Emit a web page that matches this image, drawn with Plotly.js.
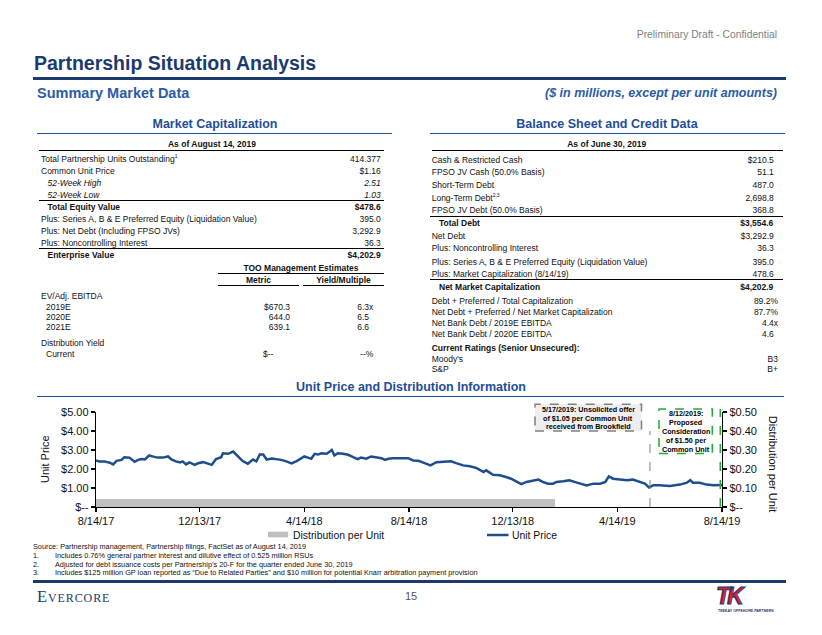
<!DOCTYPE html>
<html><head><meta charset="utf-8">
<script src="https://cdn.plot.ly/plotly-3.0.1.min.js"></script>
<style>
html,body{margin:0;padding:0;background:#fff;}
#page{position:relative;width:822px;height:635px;overflow:hidden;font-family:Arial,"Liberation Sans",sans-serif;color:#111;}
#chart{position:absolute;left:0;top:0;width:822px;height:635px;}
.t{position:absolute;white-space:nowrap;}
.hr{position:absolute;height:0;}
sup{font-size:5px;vertical-align:4px;line-height:0;}
</style></head>
<body><div id="page"><div id="chart"></div></div>
<script>
// ---------------- DATA ----------------
const tickDates = ['2017-08-14','2017-12-13','2018-04-14','2018-08-14','2018-12-13','2019-04-14','2019-08-14'];
const tickLabels = ['8/14/17','12/13/17','4/14/18','8/14/18','12/13/18','4/14/19','8/14/19'];
const leftTicks = [0,1,2,3,4,5];
const leftTickLabels = ['$--','$1.00','$2.00','$3.00','$4.00','$5.00'];
const rightTicks = [0,0.1,0.2,0.3,0.4,0.5];
const rightTickLabels = ['$--','$0.10','$0.20','$0.30','$0.40','$0.50'];

const priceDates = ['2017-08-14','2017-08-18','2017-08-24','2017-08-30','2017-09-03','2017-09-07','2017-09-13','2017-09-16','2017-09-22','2017-09-28','2017-10-02','2017-10-06','2017-10-10','2017-10-15','2017-10-20','2017-10-25','2017-10-31','2017-11-06','2017-11-10','2017-11-15','2017-11-20','2017-11-23','2017-11-27','2017-12-01','2017-12-07','2017-12-11','2017-12-17','2017-12-23','2017-12-27','2018-01-01','2018-01-07','2018-01-09','2018-01-15','2018-01-21','2018-01-27','2018-02-01','2018-02-07','2018-02-13','2018-02-17','2018-02-21','2018-02-25','2018-03-01','2018-03-07','2018-03-13','2018-03-18','2018-03-24','2018-03-30','2018-04-05','2018-04-11','2018-04-14','2018-04-18','2018-04-22','2018-04-26','2018-04-30','2018-05-04','2018-05-10','2018-05-14','2018-05-16','2018-05-19','2018-05-23','2018-05-29','2018-06-04','2018-06-10','2018-06-15','2018-06-19','2018-06-25','2018-07-01','2018-07-07','2018-07-13','2018-07-17','2018-07-21','2018-07-26','2018-08-01','2018-08-07','2018-08-13','2018-08-19','2018-08-25','2018-09-02','2018-09-08','2018-09-15','2018-09-23','2018-10-02','2018-10-08','2018-10-16','2018-10-24','2018-11-01','2018-11-09','2018-11-12','2018-11-20','2018-11-28','2018-12-05','2018-12-11','2018-12-17','2018-12-23','2018-12-29','2019-01-06','2019-01-12','2019-01-17','2019-01-23','2019-01-29','2019-02-02','2019-02-10','2019-02-17','2019-02-23','2019-03-01','2019-03-09','2019-03-17','2019-03-25','2019-03-31','2019-04-04','2019-04-09','2019-04-17','2019-04-25','2019-05-02','2019-05-10','2019-05-16','2019-05-21','2019-05-26','2019-06-02','2019-06-14','2019-06-26','2019-07-04','2019-07-08','2019-07-11','2019-07-19','2019-07-27','2019-08-04','2019-08-12','2019-08-14'];
const priceValues = [2.45,2.40,2.40,2.33,2.24,2.43,2.48,2.62,2.60,2.38,2.48,2.52,2.50,2.71,2.65,2.60,2.60,2.66,2.50,2.40,2.35,2.40,2.24,2.35,2.22,2.30,2.36,2.30,2.22,2.52,2.62,2.83,2.80,2.92,2.65,2.42,2.28,2.50,2.40,2.76,2.76,2.50,2.55,2.53,2.48,2.40,2.30,2.42,2.58,2.66,2.60,2.54,2.80,2.76,2.83,2.80,2.93,3.00,2.71,2.83,2.80,2.75,2.62,2.52,2.60,2.54,2.66,2.60,2.57,2.48,2.54,2.57,2.57,2.54,2.57,2.45,2.43,2.30,2.19,2.36,2.40,2.41,2.31,2.19,2.14,2.05,1.84,1.93,1.70,1.67,1.58,1.49,1.35,1.20,1.32,1.41,1.44,1.32,1.23,1.23,1.32,1.35,1.41,1.32,1.23,1.13,1.23,1.23,1.32,1.61,1.49,1.46,1.41,1.44,1.32,1.23,1.03,1.15,1.15,1.11,1.18,1.28,1.41,1.28,1.28,1.18,1.15,1.18,1.16];

const distStart = ['2017-08-14','2017-11-14','2018-02-14','2018-05-14','2018-08-14','2018-11-14'];
const distEnd   = ['2017-11-14','2018-02-14','2018-05-14','2018-08-14','2018-11-14','2019-01-31'];
const distValues = [0.04,0.04,0.04,0.04,0.04,0.04];

const eventDates = ['2019-05-22','2019-08-12'];
const eventLines = [['5/17/2019: Unsolicited offer','of $1.05 per Common Unit','received from Brookfield'],
                    ['8/12/2019:','Proposed','Consideration','of $1.50 per','Common Unit']];

const mcLabels = ['Total Partnership Units Outstanding<sup>1</sup>','Common Unit Price','52-Week High','52-Week Low','Total Equity Value','Plus: Series A, B &amp; E Preferred Equity (Liquidation Value)','Plus: Net Debt (Including FPSO JVs)','Plus: Noncontrolling Interest','Enterprise Value'];
const mcValues = ['414.377','$1.16','2.51','1.03','$478.6','395.0','3,292.9','36.3','$4,202.9'];
const tooLabels = ['EV/Adj. EBITDA','2019E','2020E','2021E','Distribution Yield','Current'];
const tooMetric = ['','$670.3','644.0','639.1','','$--'];
const tooYield  = ['','6.3x','6.5','6.6','','--%'];
const bsLabels = ['Cash &amp; Restricted Cash','FPSO JV Cash (50.0% Basis)','Short-Term Debt','Long-Term Debt<sup>2,3</sup>','FPSO JV Debt (50.0% Basis)','Total Debt','Net Debt','Plus: Noncontrolling Interest','Plus: Series A, B &amp; E Preferred Equity (Liquidation Value)','Plus: Market Capitalization (8/14/19)','Net Market Capitalization','Debt + Preferred / Total Capitalization','Net Debt + Preferred / Net Market Capitalization','Net Bank Debt / 2019E EBITDA','Net Bank Debt / 2020E EBITDA'];
const bsValues = ['$210.5','51.1','487.0','2,698.8','368.8','$3,554.6','$3,292.9','36.3','395.0','478.6','$4,202.9','89.2%','87.7%','4.4x','4.6'];
const ratingLabels = ["Moody's",'S&amp;P'];
const ratingValues = ['B3','B+'];
const notes = ['Source: Partnership management, Partnership filings, FactSet as of August 14, 2019',
  'Includes 0.76% general partner interest and dilutive effect of 0.525 million RSUs',
  "Adjusted for debt issuance costs per Partnership\u2019s 20-F for the quarter ended June 30, 2019",
  'Includes $125 million GP loan reported as \u201cDue to Related Parties\u201d and $10 million for potential Knarr arbitration payment provision'];

// ---------------- PAGE TEXT ----------------
const page = document.getElementById('page');
const NAVY = '#1B3A6E', BLUE = '#1F4E96', MID = '#2B5CA6';
function T(html, x, cy, o){
  o = o || {};
  const fs = o.fs || 8.5, lh = Math.round(fs*1.4);
  const d = document.createElement('div');
  d.className = 't'; d.innerHTML = html;
  d.style.fontSize = fs+'px'; d.style.lineHeight = lh+'px'; d.style.height = lh+'px';
  d.style.top = (cy - lh/2)+'px';
  if (o.align === 'right') d.style.right = (822 - x)+'px';
  else if (o.align === 'center') { d.style.left = (x-300)+'px'; d.style.width = '600px'; d.style.textAlign = 'center'; }
  else d.style.left = x+'px';
  if (o.bold) d.style.fontWeight = 'bold';
  if (o.italic) d.style.fontStyle = 'italic';
  if (o.color) d.style.color = o.color;
  if (o.family) d.style.fontFamily = o.family;
  if (o.extra) Object.assign(d.style, o.extra);
  page.appendChild(d); return d;
}
function H(x1, x2, y, w, c){
  const d = document.createElement('div'); d.className = 'hr';
  d.style.left = x1+'px'; d.style.width = (x2-x1)+'px';
  d.style.top = (y - w/2)+'px'; d.style.borderTop = w+'px solid '+c;
  page.appendChild(d);
}
const hang = v => /[x%]$/.test(v) || v === '' || /[A-Z+]$/.test(v) ? v : v + '<span style="visibility:hidden">x</span>';

// header
T('Preliminary Draft - Confidential', 777, 35, {fs:10.3, align:'right', color:'#808080'});
T('Partnership Situation Analysis', 34, 63, {fs:19.5, bold:true, color:NAVY});
H(33, 786, 78.5, 3, NAVY);
T('Summary Market Data', 37, 93, {fs:14.5, bold:true, color:MID});
T('($ in millions, except per unit amounts)', 777, 93, {fs:12.5, bold:true, italic:true, color:MID, align:'right'});

// left table
T('Market Capitalization', 215, 124, {fs:12.5, bold:true, color:BLUE, align:'center'});
H(37, 392, 134, 1.5, BLUE);
T('As of August 14, 2019', 212, 144.3, {bold:true, align:'center'});
H(39, 384, 150.5, 1.5, '#000');
const mcY = [159,171,182.7,194.7,207.3,219,230.7,243,255.3];
const mcStyle = ['', '', 'i', 'i', 'b', '', '', '', 'b'];
mcLabels.forEach((l,i)=>{
  const s = mcStyle[i];
  T(l, s ? 47.5 : 41, mcY[i], {bold:s==='b', italic:s==='i'});
  T(mcValues[i], 380.7, mcY[i], {bold:s==='b', italic:s==='i', align:'right'});
});
H(39, 384, 200.5, 1.3, '#000');
H(39, 384, 248.8, 1.3, '#000');
T('TOO Management Estimates', 301, 268.3, {bold:true, align:'center'});
H(218, 384, 273.5, 1.5, '#000');
T('Metric', 258.5, 280, {bold:true, align:'center'});
T('Yield/Multiple', 343.5, 280, {bold:true, align:'center'});
H(218, 299, 286, 1.5, '#000');
H(303, 384, 286, 1.5, '#000');
const tooY = [296,306.7,317,327.3,343.3,353.7];
tooLabels.forEach((l,i)=>{
  const ind = (i===0||i===4) ? 41 : 46;
  T(l, ind, tooY[i]);
  if (tooMetric[i] === '$--') T(tooMetric[i], 263, tooY[i]);
  else if (tooMetric[i]) T(tooMetric[i], 290, tooY[i], {align:'right'});
  if (tooYield[i]) T(hang(tooYield[i]), 373.3, tooY[i], {align:'right'});
});

// right table
T('Balance Sheet and Credit Data', 607, 124, {fs:12.5, bold:true, color:BLUE, align:'center'});
H(430, 785, 134, 1.5, BLUE);
T('As of June 30, 2019', 606.7, 144.3, {bold:true, align:'center'});
H(431.7, 782.7, 150.5, 1.5, '#000');
const bsY = [160,172.3,185,197.7,210,223.3,236,248.3,261.7,274.3,287.3,301,311.7,322.7,334];
bsLabels.forEach((l,i)=>{
  const b = (i===5 || i===10);
  T(l, b ? 439 : 431.7, bsY[i], {bold:b});
  T(hang(bsValues[i]), 778, bsY[i], {bold:b, align:'right'});
});
H(430, 782.7, 216.3, 1.5, '#000');
H(430, 782.7, 279.3, 1.5, '#000');
T('Current Ratings (Senior Unsecured):', 431.7, 348.3, {bold:true});
const rY = [359, 369.3];
ratingLabels.forEach((l,i)=>{ T(l, 431.7, rY[i]); T(ratingValues[i], 778, rY[i], {align:'right'}); });

// chart heading
T('Unit Price and Distribution Information', 411, 386.7, {fs:12.5, bold:true, color:BLUE, align:'center'});
H(37, 784, 396.7, 1.5, BLUE);

// notes
const noteY = [547.3, 556, 564.6, 573.3];
notes.forEach((n,i)=>{
  if (i===0) T(n, 33, noteY[i], {fs:7.3});
  else { T(i+'.', 33, noteY[i], {fs:7.3}); T(n, 55, noteY[i], {fs:7.3}); }
});
H(33, 786, 581.7, 3, NAVY);
T('Evercore', 37, 596, {fs:16.5, color:NAVY, family:'"Liberation Serif","DejaVu Serif",serif', extra:{fontVariant:'small-caps', letterSpacing:'0.9px'}});
T('15', 411, 596, {fs:11, color:'#555', align:'center'});
T('TK', 716, 596, {fs:23, bold:true, color:'#E31837', extra:{fontWeight:'900', webkitTextStroke:'1px '+NAVY, letterSpacing:'-3px', fontStyle:'italic'}});
T('TEEKAY OFFSHORE PARTNERS', 718, 611, {fs:3.6, bold:true, color:NAVY});

// ---------------- CHART ----------------
const ms = s => new Date(s).getTime();
const iso = m => new Date(m).toISOString().slice(0,19).replace('T',' ');
const distMid = distStart.map((s,i)=> iso((ms(s)+ms(distEnd[i]))/2));
const distWidth = distStart.map((s,i)=> ms(distEnd[i]) - ms(s));

const PX = p => (p-96)/626, PY = p => (507-p)/95;
const LINE = '#1F4E8C', GREEN = '#22AA3A', GREY = '#808080';

const traces = [
  {type:'bar', x:distMid, y:distValues, width:distWidth, yaxis:'y2', name:'Distribution per Unit',
   marker:{color:'#C0C0C0', line:{width:0}}, hoverinfo:'skip'},
  {type:'scatter', mode:'lines', x:priceDates, y:priceValues, name:'Unit Price',
   line:{color:LINE, width:2.5}}
];

const axBase = {showline:true, linecolor:'#000', linewidth:1.2, ticks:'outside', ticklen:4, tickwidth:1.2,
  tickcolor:'#000', showgrid:false, zeroline:false, tickfont:{size:11, color:'#111'}, fixedrange:true};

// box text lines, one annotation per line (tight line spacing as in the slide)
const boxLineY = [[409.6, 418, 426.3], [413.3, 422.4, 431.4, 440.4, 449]];
const boxCX = [588.3, 685.7];
const boxAnns = [];
eventLines.forEach((lines, b) => lines.forEach((s, k) => boxAnns.push({
  xref:'paper', yref:'paper', x:PX(boxCX[b]), y:PY(boxLineY[b][k]), text:s, showarrow:false,
  font:{size:7.2, color:'#000', weight:'bold'}, xanchor:'center', yanchor:'middle'
})));

const layout = {
  width:822, height:635, margin:{l:96, r:100, t:412, b:128, pad:0},
  paper_bgcolor:'rgba(0,0,0,0)', plot_bgcolor:'rgba(0,0,0,0)',
  font:{family:'Arial, "Liberation Sans", sans-serif', size:11, color:'#111'},
  showlegend:false, bargap:0,
  xaxis:Object.assign({}, axBase, {type:'date', range:['2017-08-14','2019-08-14'], tickmode:'array',
    tickvals:tickDates, ticktext:tickLabels}),
  yaxis:Object.assign({}, axBase, {range:[0,5], tickmode:'array', tickvals:leftTicks, ticktext:leftTickLabels}),
  yaxis2:Object.assign({}, axBase, {range:[0,0.5], overlaying:'y', side:'right', tickmode:'array',
    tickvals:rightTicks, ticktext:rightTickLabels}),
  shapes:[
    {type:'rect', xref:'paper', yref:'paper', x0:PX(535), x1:PX(641.5), y0:PY(431), y1:PY(404.3),
     fillcolor:'#EEEEEE', line:{color:GREY, width:1.5, dash:'dash'}},
    {type:'line', xref:'x', yref:'paper', x0:eventDates[0], x1:eventDates[0], y0:0, y1:PY(431),
     line:{color:GREY, width:1, dash:'dash'}},
    {type:'rect', xref:'paper', yref:'paper', x0:PX(659), x1:PX(712.3), y0:PY(453.5), y1:PY(409),
     fillcolor:'#FFFFFF', line:{color:GREEN, width:1.5, dash:'dash'}},
    {type:'line', xref:'x', yref:'paper', x0:eventDates[1], x1:eventDates[1], y0:0, y1:PY(409),
     line:{color:GREEN, width:1.5, dash:'dash'}},
    {type:'rect', xref:'paper', yref:'paper', x0:PX(268), x1:PX(288), y0:PY(537.3), y1:PY(531.7),
     fillcolor:'#C0C0C0', line:{width:0}},
    {type:'line', xref:'paper', yref:'paper', x0:PX(487), x1:PX(508.5), y0:PY(535), y1:PY(535),
     line:{color:LINE, width:2.5}}
  ],
  annotations: boxAnns.concat([
    {xref:'paper', yref:'paper', x:PX(45), y:PY(459), text:'Unit Price', textangle:-90, showarrow:false,
     font:{size:11}, xanchor:'center', yanchor:'middle'},
    {xref:'paper', yref:'paper', x:PX(773.3), y:PY(464), text:'Distribution per Unit', textangle:90, showarrow:false,
     font:{size:11}, xanchor:'center', yanchor:'middle'},
    {xref:'paper', yref:'paper', x:PX(290.7), y:PY(535), text:traces[0].name, showarrow:false,
     font:{size:10.4}, xanchor:'left', yanchor:'middle'},
    {xref:'paper', yref:'paper', x:PX(510), y:PY(535), text:traces[1].name, showarrow:false,
     font:{size:10.4}, xanchor:'left', yanchor:'middle'}
  ])
};
Plotly.newPlot('chart', traces, layout, {staticPlot:true, displayModeBar:false});
</script>
</body></html>
